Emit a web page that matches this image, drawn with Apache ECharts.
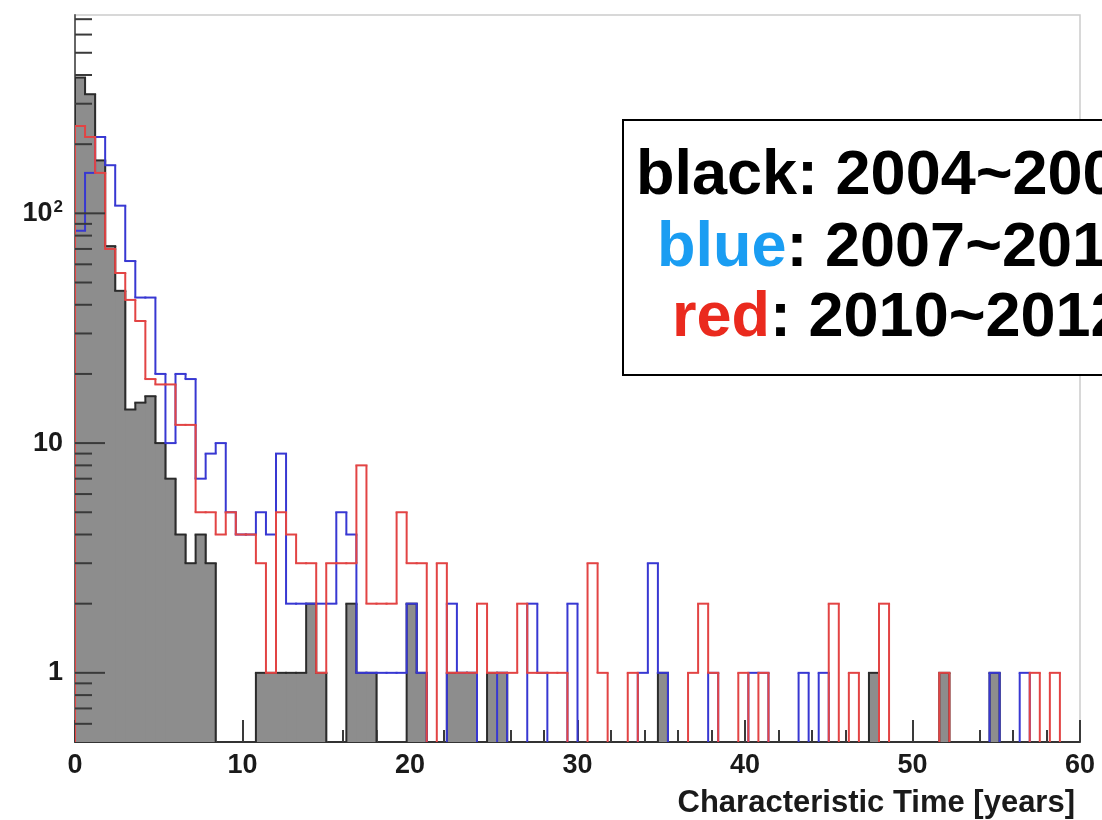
<!DOCTYPE html>
<html><head><meta charset="utf-8">
<script src="https://cdn.jsdelivr.net/npm/echarts@6/dist/echarts.min.js"></script>
<style>html,body{margin:0;padding:0;background:#fff}#c{width:1102px;height:820px}</style>
</head><body><div id="c"></div>
<script>
// Histogram: 100 bins of width 0.6 years, from 0 to 60
const BIN_WIDTH = 0.6;

// black: 2004~2006 (filled gray)
const black2004 = [
  390, 330, 170, 72, 46, 14, 15, 16, 10, 7,
  4, 3, 4, 3, 0, 0, 0, 0, 1, 1,
  1, 1, 1, 2, 1, 0, 0, 2, 1, 1,
  0, 0, 0, 2, 1, 0, 0, 1, 1, 1,
  0, 1, 1, 0, 0, 0, 0, 0, 0, 0,
  0, 0, 0, 0, 0, 0, 0, 0, 1, 0,
  0, 0, 0, 0, 0, 0, 0, 0, 0, 0,
  0, 0, 0, 0, 0, 0, 0, 0, 0, 1,
  0, 0, 0, 0, 0, 0, 1, 0, 0, 0,
  0, 1, 0, 0, 0, 0, 0, 0, 0, 0
];
// blue: 2007~2010
const blue2007 = [
  84, 150, 215, 162, 108, 62, 43, 43, 20, 10,
  20, 19, 7, 9, 10, 5, 4, 4, 5, 4,
  9, 2, 2, 2, 2, 2, 5, 4, 1, 1,
  1, 1, 1, 2, 1, 0, 0, 2, 1, 1,
  0, 0, 1, 0, 0, 2, 1, 0, 0, 2,
  0, 0, 0, 0, 0, 0, 1, 3, 1, 0,
  0, 0, 0, 1, 0, 0, 0, 1, 1, 0,
  0, 0, 1, 0, 1, 0, 0, 0, 0, 0,
  0, 0, 0, 0, 0, 0, 0, 0, 0, 0,
  0, 1, 0, 0, 1, 0, 0, 0, 0, 0
];
// red: 2010~2012
const red2010 = [
  240, 215, 150, 70, 55, 42, 34, 19, 18, 18,
  12, 12, 5, 5, 4, 5, 4, 4, 3, 1,
  5, 4, 3, 3, 1, 3, 3, 3, 8, 2,
  2, 2, 5, 3, 3, 0, 3, 1, 1, 1,
  2, 1, 1, 1, 2, 1, 1, 1, 1, 0,
  0, 3, 1, 0, 0, 1, 0, 0, 0, 0,
  0, 1, 2, 1, 0, 0, 1, 0, 1, 0,
  0, 0, 0, 0, 0, 2, 0, 1, 0, 0,
  2, 0, 0, 0, 0, 0, 1, 0, 0, 0,
  0, 0, 0, 0, 0, 1, 0, 1, 0, 0
];

const yMajorTicks = [1, 10, 100];
const yMinorTicks = [0.6, 0.7, 0.8, 0.9, 2, 3, 4, 5, 6, 7, 8, 9,
  20, 30, 40, 50, 60, 70, 80, 90, 200, 300, 400, 500, 600, 700];
const legendLines = [
  { word: 'black', rest: ': 2004~2006', color: '#000000' },
  { word: 'blue', rest: ': 2007~2010', color: '#1a9df2' },
  { word: 'red', rest: ': 2010~2012', color: '#ea2a1e' }
];

const FONT = '"Liberation Sans", Arial, Helvetica, sans-serif';
const LEGEND_FS = 63;

function binData(values) {
  return values.map((v, i) => [i * BIN_WIDTH, (i + 1) * BIN_WIDTH, v,
    i > 0 ? values[i - 1] : 0, i === values.length - 1 ? 1 : 0, 1]);
}

function stepSeries(values, color, width, z) {
  return {
    type: 'custom', z, clip: true, silent: true,
    data: binData(values),
    encode: { x: [0, 1], y: 5 },
    renderItem(params, api) {
      const cs = params.coordSys;
      const bottom = cs.y + cs.height + 4;
      const x0 = api.value(0), x1 = api.value(1), v = api.value(2), pv = api.value(3), last = api.value(4);
      const px0 = api.coord([x0, 1])[0], px1 = api.coord([x1, 1])[0];
      const yOf = val => val > 0 ? api.coord([x0, val])[1] : bottom;
      const st = { stroke: color, lineWidth: width, fill: null };
      const ch = [];
      if (v !== pv) ch.push({ type: 'line', shape: { x1: px0, y1: yOf(pv), x2: px0, y2: yOf(v) }, style: st });
      if (v > 0) ch.push({ type: 'line', shape: { x1: px0 - width / 2, y1: yOf(v), x2: px1 + width / 2, y2: yOf(v) }, style: st });
      if (last && v > 0) ch.push({ type: 'line', shape: { x1: px1, y1: yOf(v), x2: px1, y2: bottom }, style: st });
      return { type: 'group', children: ch };
    }
  };
}

function fillSeries(values, color, z) {
  return {
    type: 'custom', z, clip: true, silent: true,
    data: binData(values),
    encode: { x: [0, 1], y: 5 },
    renderItem(params, api) {
      const cs = params.coordSys;
      const bottom = cs.y + cs.height;
      const x0 = api.value(0), x1 = api.value(1), v = api.value(2), overlap = 1;
      if (!(v > 0)) return null;
      const p0 = api.coord([x0, v]);
      const px1 = api.coord([x1, v])[0];
      return { type: 'rect', shape: { x: p0[0], y: p0[1], width: px1 - p0[0] + overlap, height: bottom - p0[1] },
        style: { fill: color, stroke: null } };
    }
  };
}

function yTickSeries() {
  const data = yMinorTicks.map(v => [0, v, 17]).concat(yMajorTicks.map(v => [0, v, 30]));
  return {
    type: 'custom', z: 20, clip: false, silent: true, data,
    encode: { x: 0, y: 1 },
    renderItem(params, api) {
      const p = api.coord([api.value(0), api.value(1)]);
      return { type: 'line', shape: { x1: p[0], y1: p[1], x2: p[0] + api.value(2), y2: p[1] },
        style: { stroke: '#3a3a3a', lineWidth: 2 } };
    }
  };
}

const legendChildren = [
  { type: 'rect', shape: { x: 623, y: 120, width: 540, height: 255 },
    style: { fill: '#ffffff', stroke: '#000000', lineWidth: 2 } }
];
const legendX = [636, 657, 672];
const legendY = [177, 249, 319];
legendLines.forEach((l, i) => {
  legendChildren.push({
    type: 'text', x: legendX[i], y: legendY[i],
    style: {
      text: '{w|' + l.word + '}{r|' + l.rest + '}',
      verticalAlign: 'middle', align: 'left',
      fontSize: LEGEND_FS, fontWeight: 'bold', fontFamily: FONT,
      rich: {
        w: { fill: l.color, color: l.color, fontSize: LEGEND_FS, fontWeight: 'bold', fontFamily: FONT },
        r: { fill: '#000', color: '#000', fontSize: LEGEND_FS, fontWeight: 'bold', fontFamily: FONT }
      }
    }
  });
});

const chart = echarts.init(document.getElementById('c'), null, { renderer: 'canvas' });
chart.setOption({
  animation: false,
  backgroundColor: '#ffffff',
  grid: { left: 75, right: 22, top: 15, bottom: 78, show: true, borderColor: '#cccccc', borderWidth: 1.5, backgroundColor: 'transparent' },
  xAxis: {
    type: 'value', min: 0, max: 60, interval: 10,
    name: 'Characteristic Time [years]', nameLocation: 'end', nameGap: -5,
    nameTextStyle: { fontSize: 31, fontWeight: 'bold', fontFamily: FONT, color: '#1a1a1a', align: 'right', verticalAlign: 'top', padding: [46, 0, 0, 0] },
    axisLine: { show: true, lineStyle: { color: '#333', width: 2 } },
    axisTick: { show: true, inside: true, length: 22, lineStyle: { color: '#3a3a3a', width: 2 } },
    minorTick: { show: true, splitNumber: 5, length: 12, lineStyle: { color: '#3a3a3a', width: 2 } },
    splitLine: { show: false },
    axisLabel: { fontSize: 27, fontWeight: 'bold', fontFamily: FONT, color: '#1a1a1a', margin: 10 }
  },
  yAxis: {
    type: 'log', logBase: 10, min: 0.5, max: 730,
    axisLine: { show: true, lineStyle: { color: '#666', width: 2 } },
    axisTick: { show: false },
    splitLine: { show: false },
    axisLabel: {
      margin: 12, color: '#1a1a1a',
      fontSize: 27, fontWeight: 'bold', fontFamily: FONT,
      formatter: v => {
        const r = Math.round(v * 1000) / 1000;
        if (r === 1) return '{a|1}';
        if (r === 10) return '{a|10}';
        if (r === 100) return '{a|10}{s|2}';
        return '';
      },
      rich: {
        a: { fontSize: 27, fontWeight: 'bold', fontFamily: FONT, color: '#1a1a1a', lineHeight: 30 },
        s: { fontSize: 17, fontWeight: 'bold', fontFamily: FONT, color: '#1a1a1a', lineHeight: 30, verticalAlign: 'top', padding: [0, 0, 10, 1] }
      }
    }
  },
  series: [
    fillSeries(black2004, '#8d8d8d', 2),
    stepSeries(black2004, '#2b2b2b', 2, 3),
    stepSeries(blue2007, '#3838d2', 2, 4),
    stepSeries(red2010, '#e24444', 2, 5),
    yTickSeries()
  ],
  graphic: [{ type: 'group', z: 100, children: legendChildren }]
});
</script>
</body></html>
